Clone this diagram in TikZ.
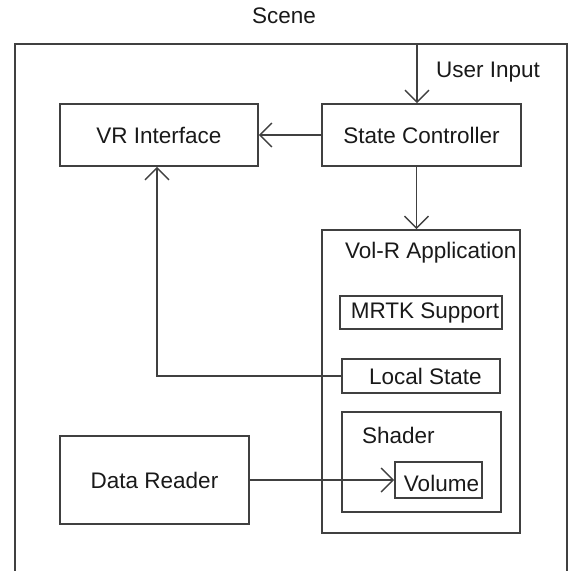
\documentclass[tikz,border=0pt]{standalone}
\usepackage{fontspec}
\setmainfont{Liberation Sans}
\usepackage{tikz}
\usetikzlibrary{arrows.meta,positioning,calc}

\begin{document}
\begin{tikzpicture}[x=1pt, y=-1pt, >={Straight Barb[length=12pt,width=24pt]},
  line width=1.6pt, draw=black!75,
  every node/.style={font=\fontsize{22.5}{27}\selectfont, text=black!90},
  box/.style={rectangle,draw=black!75,line width=1.6pt,inner sep=0pt},
  conn/.style={->,draw=black!75,line width=1.4pt}]
  \useasboundingbox (0,0) rectangle (569,571);
  % Scene frame (open at the bottom)
  \node (scene) at (284,16) {Scene};
  \draw[black!75] (15,571) -- (15,44) -- (567,44) -- (567,571);
  % Top row
  \node[box,minimum width=198pt,minimum height=62pt] (vr) at (159,135) {VR Interface};
  \node[box,minimum width=199pt,minimum height=62pt] (sc) at (421.5,135) {State Controller};
  % Application with its parts
  \node[box,minimum width=198pt,minimum height=303pt] (app) at (421,381.5) {};
  \node[anchor=west] (apptitle) at (341,253) {Vol-R Application};
  \node[box,minimum width=162pt,minimum height=33pt] (mrtk) at (421,312.5) {\hspace{8pt}MRTK Support};
  \node[box,minimum width=158pt,minimum height=34pt] (local) at (421,376) {\hspace{9pt}Local State};
  \node[box,minimum width=159pt,minimum height=100pt] (shader) at (421.5,462) {};
  \node[anchor=west] (shadertitle) at (358,435) {Shader};
  \node[box,minimum width=87pt,minimum height=36pt,text depth=0pt] (volume) at (438.5,480) {\hspace{6pt}\raisebox{-6pt}{Volume}};
  % Data source
  \node[box,minimum width=189pt,minimum height=88pt] (reader) at (154.5,480) {Data Reader};
  % Input from outside the scene
  \coordinate (userin) at (417,44);
  \node[anchor=west] (userlabel) at (432,72) {User Input};
  % Links
  \draw[conn] (userin) -- (userin |- sc.north);
  \draw[conn] (sc.west) -- (vr.east);
  \draw[conn] ([xshift=-5pt]sc.south) -- ([xshift=-5pt]sc.south |- app.north);
  \draw[conn] (local.west) -| ([xshift=-2pt]vr.south);
  \draw[conn] (reader.east) -- (volume.west);
\end{tikzpicture}
\end{document}
